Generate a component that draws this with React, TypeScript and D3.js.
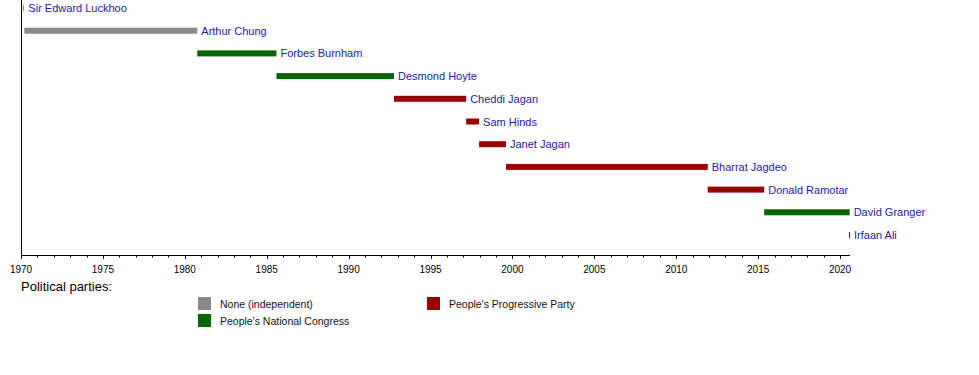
import React from "react";
import * as d3 from "d3";

const names = [
  "Sir Edward Luckhoo",
  "Arthur Chung",
  "Forbes Burnham",
  "Desmond Hoyte",
  "Cheddi Jagan",
  "Sam Hinds",
  "Janet Jagan",
  "Bharrat Jagdeo",
  "Donald Ramotar",
  "David Granger",
  "Irfaan Ali",
];
const starts = [
  "1970-02-23", "1970-03-17", "1980-10-06", "1985-08-06", "1992-10-09",
  "1997-03-06", "1997-12-19", "1999-08-11", "2011-12-03", "2015-05-16", "2020-08-02",
];
const ends = [
  "1970-03-17", "1980-10-06", "1985-08-06", "1992-10-09", "1997-03-06",
  "1997-12-19", "1999-08-11", "2011-12-03", "2015-05-16", "2020-08-02", "2020-08-10",
];
const parties = ["None", "None", "PNC", "PNC", "PPP", "PPP", "PPP", "PPP", "PPP", "PNC", "PPP"];
const partyKeys = ["None", "PNC", "PPP"];
const partyLabels = ["None (independent)", "People's National Congress", "People's Progressive Party"];
const partyColors = ["#888888", "#006600", "#990000"];
const tickYears = [1970, 1975, 1980, 1985, 1990, 1995, 2000, 2005, 2010, 2015, 2020];

const parse = d3.timeParse("%Y-%m-%d");

export default function App() {
  const W = 979, H = 375;
  const x = d3.scaleTime()
    .domain([new Date(1970, 0, 1), new Date(2020, 7, 10)])
    .range([21, 850]);
  const y = d3.scalePoint<string>().domain(names).range([8, 235]);
  const color = d3.scaleOrdinal<string, string>().domain(partyKeys).range(partyColors);
  const axisY = 255;
  const minorYears = d3.range(1970, 2021);
  const font = "'Liberation Sans', Arial, sans-serif";

  return (
    <svg width={W} height={H} style={{ position: "absolute", left: 0, top: 0 }} fontFamily={font}>
      <rect width={W} height={H} fill="#fff" />
      <line x1={21.5} x2={21.5} y1={0} y2={axisY} stroke="#000" strokeWidth={1} />
      <line x1={21} x2={850} y1={axisY + 0.5} y2={axisY + 0.5} stroke="#000" strokeWidth={1} />
      {minorYears.map((yr) => {
        const xx = Math.round(x(new Date(yr, 0, 1))) + 0.5;
        const major = yr % 5 === 0;
        return <line key={yr} x1={xx} x2={xx} y1={axisY} y2={axisY + (major ? 4 : 2.5)} stroke="#000" strokeWidth={1} />;
      })}
      {tickYears.map((yr) => (
        <text key={yr} x={x(new Date(yr, 0, 1))} y={273} fontSize={10} textAnchor="middle" fill="#000">{yr}</text>
      ))}
      {names.map((n, i) => {
        const x0 = x(parse(starts[i])!);
        const x1 = x(parse(ends[i])!);
        const yc = y(n)!;
        const w = x1 - x0;
        return (
          <g key={n}>
            <rect x={w < 1.5 ? Math.floor(x0) : x0} y={yc - 3} width={Math.max(1, w)} height={6} fill={color(parties[i])} />
            <text x={x1 + 4} y={yc + 4} fontSize={11} fill="#1a1a9e">{n}</text>
          </g>
        );
      })}
      <text x={21} y={291} fontSize={13} fill="#000">Political parties:</text>
      {partyKeys.map((k, i) => {
        const col = i < 2 ? 0 : 1;
        const row = i < 2 ? i : 0;
        const lx = col === 0 ? 198 : 427;
        const ly = 297 + row * 17;
        return (
          <g key={k}>
            <rect x={lx} y={ly} width={13} height={13} fill={partyColors[i]} />
            <text x={lx + 22} y={ly + 11} fontSize={10.5} fill="#111">{partyLabels[i]}</text>
          </g>
        );
      })}
    </svg>
  );
}
